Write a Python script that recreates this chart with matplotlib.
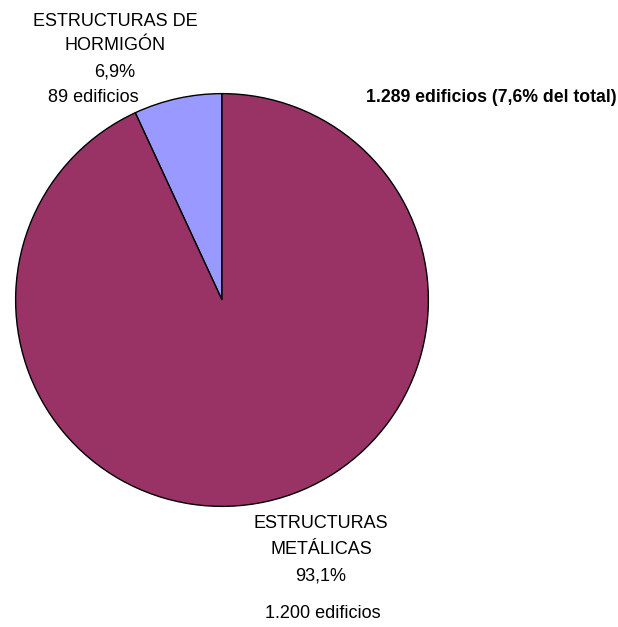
"""
Pie chart: buildings by structure type
"""
import matplotlib
matplotlib.use("Agg")
import matplotlib.pyplot as plt

plt.rcParams['font.family'] = ['Liberation Sans', 'DejaVu Sans']

# Data
categories = [['ESTRUCTURAS DE', 'HORMIGÓN'], ['ESTRUCTURAS', 'METÁLICAS']]
counts = [89, 1200]
colors = ['#9999FF', '#993366']
share_of_total = 7.6  # % of all buildings


def fmt_int(n):
    # Spanish thousands separator
    return f'{n:,}'.replace(',', '.')


def fmt_pct(p):
    return f'{p:.1f}%'.replace('.', ',')


total = sum(counts)
pcts = [c / total * 100 for c in counts]

W, H = 618, 627
fig = plt.figure(figsize=(W / 100, H / 100), dpi=100)
# pie box in pixels: left 15, top 93, size 414
ax = fig.add_axes([15 / W, (H - 507) / H, 414 / W, 414 / H])

ax.pie(counts, colors=colors, startangle=90, counterclock=True, radius=1.0,
       wedgeprops=dict(edgecolor='black', linewidth=1.0))
ax.set_xlim(-1.003, 1.003)
ax.set_ylim(-1.003, 1.003)
ax.set_aspect('equal')
ax.axis('off')

fs = 13


def put(x, y, s, **kw):
    # position given in pixels from the top-left corner
    fig.text(x / W, 1 - y / H, s, ha='center', va='center', fontsize=fs, **kw)


# Concrete structures label (top left)
put(115, 21, categories[0][0])
put(115, 46, categories[0][1])
put(115, 72, fmt_pct(pcts[0]))
put(93, 97, f'{fmt_int(counts[0])} edificios')

# Steel structures label (bottom)
put(321, 523, categories[1][0])
put(321, 550, categories[1][1])
put(321, 576, fmt_pct(pcts[1]))
put(323, 613, f'{fmt_int(counts[1])} edificios')

# Total
fig.text(617 / W, 1 - 97 / H,
         f'{fmt_int(total)} edificios ({fmt_pct(share_of_total)} del total)',
         ha='right', va='center', fontsize=12.7, weight='bold')

plt.savefig('out.png', dpi=100)
